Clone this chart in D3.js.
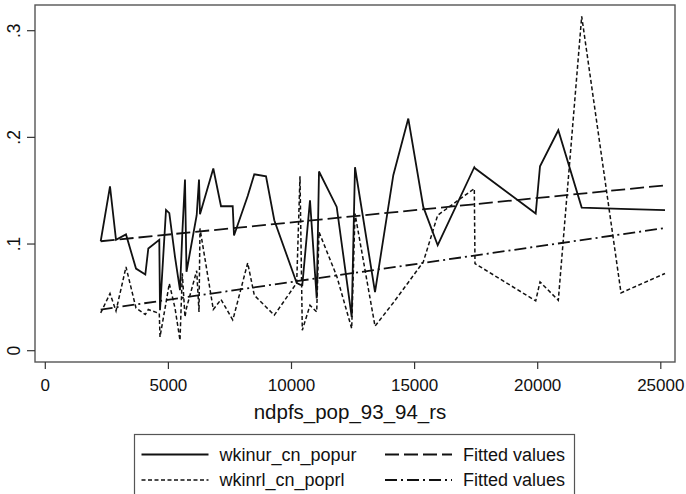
<!DOCTYPE html>
<html>
<head>
<meta charset="utf-8">
<script src="https://cdn.jsdelivr.net/npm/d3@7"></script>
<style>
  body { margin: 0; background: white; }
  text { font-family: "Liberation Sans", Arial, sans-serif; fill: #111; }
</style>
</head>
<body>
<svg id="chart" width="686" height="494"></svg>
<script>
// x values (ndpfs_pop_93_94_rs), shared by both series
const xVals = [2250, 2628, 2872, 3278, 3684, 4062, 4184, 4630, 4659, 4903,
  5037, 5268, 5471, 5565, 5674, 5735, 6149, 6243, 6283, 6824,
  7137, 7612, 7665, 8221, 8489, 8965, 9301, 10211, 10345, 10439,
  10751, 11024, 11117, 11836, 12445, 12579, 13392, 14135, 14744, 15353,
  15938, 17425, 17453, 19919, 20094, 20837, 21787, 23384, 25171];

// wkinur_cn_popur
const urVals = [0.1026, 0.154, 0.104, 0.109, 0.077, 0.0714, 0.0958, 0.104, 0.038, 0.132,
  0.129, 0.088, 0.0567, 0.11, 0.1605, 0.074, 0.127, 0.1605, 0.128, 0.1708,
  0.1354, 0.1354, 0.108, 0.145, 0.1654, 0.1635, 0.1223, 0.0635, 0.062, 0.0614,
  0.141, 0.049, 0.168, 0.1348, 0.0317, 0.172, 0.055, 0.1645, 0.2176, 0.1348,
  0.0989, 0.172, 0.171, 0.1286, 0.1729, 0.2067, 0.1342, 0.133, 0.1317];

// wkinrl_cn_poprl
const rlVals = [0.0354, 0.0536, 0.0373, 0.0785, 0.040, 0.034, 0.0386, 0.0349, 0.0129, 0.045,
  0.063, 0.040, 0.0098, 0.0725, 0.0316, 0.040, 0.075, 0.0364, 0.1146, 0.0386,
  0.048, 0.029, 0.033, 0.0823, 0.052, 0.041, 0.0333, 0.0635, 0.1635, 0.0192,
  0.0426, 0.0364, 0.1113, 0.070, 0.0208, 0.1286, 0.023, 0.045, 0.064, 0.0832,
  0.127, 0.152, 0.0817, 0.0467, 0.0645, 0.0473, 0.3135, 0.0542, 0.0724];

// fitted values (end points of the two regression lines)
const fitX = [2250, 25171];
const fitUr = [0.1026, 0.155];
const fitRl = [0.0386, 0.115];

const xTicks = [0, 5000, 10000, 15000, 20000, 25000];
const yTicks = [0, 0.1, 0.2, 0.3];
const yTickLabels = ["0", ".1", ".2", ".3"];
const xTitle = "ndpfs_pop_93_94_rs";
const legendLabels = ["wkinur_cn_popur", "Fitted values", "wkinrl_cn_poprl", "Fitted values"];

const svg = d3.select("#chart");

const frame = { left: 35, top: 5, right: 675, bottom: 362 };

const x = d3.scaleLinear().domain([0, 25000]).range([45.3, 660.8]);
const y = d3.scaleLinear().domain([0, 0.3]).range([350.7, 30.7]);

const styles = {
  ur: { dash: null, width: 1.8 },
  rl: { dash: "4,2.5", width: 1.5 },
  fitUr: { dash: "14,5", width: 1.8 },
  fitRl: { dash: "12,4,2,4", width: 1.8 }
};

// plot frame
svg.append("rect")
  .attr("x", frame.left)
  .attr("y", frame.top)
  .attr("width", frame.right - frame.left)
  .attr("height", frame.bottom - frame.top)
  .attr("fill", "white")
  .attr("stroke", "#555")
  .attr("stroke-width", 1.4);

// y axis
const yAxis = svg.append("g");
yTicks.forEach((t, i) => {
  yAxis.append("line")
    .attr("x1", frame.left - 8).attr("x2", frame.left)
    .attr("y1", y(t)).attr("y2", y(t))
    .attr("stroke", "#333").attr("stroke-width", 1.2);
  yAxis.append("text")
    .attr("transform", `translate(14,${y(t)}) rotate(-90)`)
    .attr("text-anchor", "middle")
    .attr("dominant-baseline", "central")
    .attr("font-size", "17.5px")
    .text(yTickLabels[i]);
});

// x axis
const xAxis = svg.append("g");
xTicks.forEach(t => {
  xAxis.append("line")
    .attr("x1", x(t)).attr("x2", x(t))
    .attr("y1", frame.bottom).attr("y2", frame.bottom + 7)
    .attr("stroke", "#333").attr("stroke-width", 1.2);
  xAxis.append("text")
    .attr("x", x(t))
    .attr("y", 391)
    .attr("text-anchor", "middle")
    .attr("font-size", "17px")
    .text(t);
});

svg.append("text")
  .attr("x", 350)
  .attr("y", 419)
  .attr("text-anchor", "middle")
  .attr("font-size", "20.5px")
  .text(xTitle);

// lines
const line = d3.line().x(d => x(d[0])).y(d => y(d[1]));

function drawSeries(xs, ys, st) {
  svg.append("path")
    .datum(xs.map((v, i) => [v, ys[i]]))
    .attr("d", line)
    .attr("fill", "none")
    .attr("stroke", "#111")
    .attr("stroke-width", st.width)
    .attr("stroke-linejoin", "miter")
    .attr("stroke-dasharray", st.dash);
}

drawSeries(xVals, urVals, styles.ur);
drawSeries(xVals, rlVals, styles.rl);
drawSeries(fitX, fitUr, styles.fitUr);
drawSeries(fitX, fitRl, styles.fitRl);

// legend
const legend = svg.append("g");
legend.append("rect")
  .attr("x", 134.5).attr("y", 434.5)
  .attr("width", 440).attr("height", 80)
  .attr("fill", "white")
  .attr("stroke", "#555")
  .attr("stroke-width", 1.2);

const legendItems = [
  { st: styles.ur, col: 0, row: 0, label: legendLabels[0] },
  { st: styles.fitUr, col: 1, row: 0, label: legendLabels[1] },
  { st: styles.rl, col: 0, row: 1, label: legendLabels[2] },
  { st: styles.fitRl, col: 1, row: 1, label: legendLabels[3] }
];
const colX = [141.5, 385];
const rowY = [454.5, 480];

legendItems.forEach(it => {
  const lx = colX[it.col];
  const ly = rowY[it.row];
  legend.append("line")
    .attr("x1", lx).attr("x2", lx + 67)
    .attr("y1", ly).attr("y2", ly)
    .attr("stroke", "#111")
    .attr("stroke-width", it.st.width)
    .attr("stroke-dasharray", it.st.dash);
  legend.append("text")
    .attr("x", lx + 78)
    .attr("y", ly)
    .attr("dominant-baseline", "central")
    .attr("font-size", "18px")
    .text(it.label);
});
</script>
</body>
</html>
